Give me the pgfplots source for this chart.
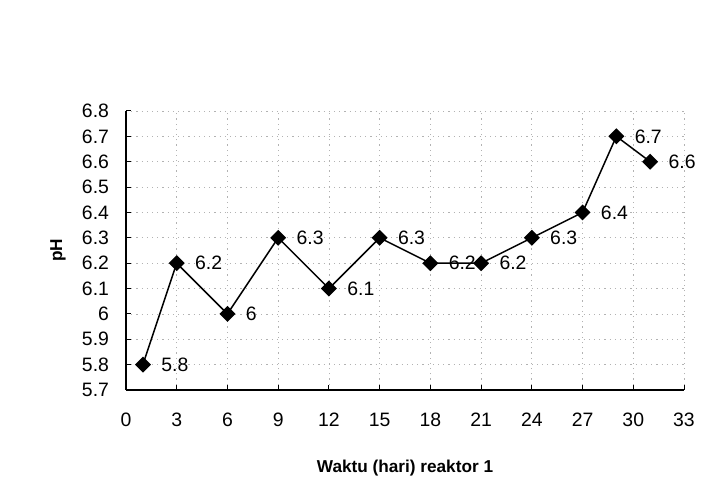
\documentclass[border=0pt]{standalone}
\usepackage{pgfplots}
\pgfplotsset{compat=1.18}
\usepackage{fontspec}
\setmainfont{Liberation Sans}
\begin{document}
\begin{tikzpicture}[x=1pt,y=1pt]
\path[use as bounding box] (0,0) rectangle (353,250.5);
\begin{axis}[
  at={(63pt,55.5pt)}, anchor=south west,
  scale only axis, width=279pt, height=139.5pt,
  xmin=0, xmax=33, ymin=5.7, ymax=6.8,
  xtick={0,3,...,33},
  ytick={5.7,5.8,5.9,6.0,6.1,6.2,6.3,6.4,6.5,6.6,6.7,6.8},
  axis x line*=bottom, axis y line*=left,
  axis line style={black, line width=0.6pt},
  tick style={black, line width=0.5pt},
  major tick length=2.5pt,
  tick align=inside,
  grid=major,
  major grid style={gray!60, line width=0.4pt, dash pattern=on 0.6pt off 2pt},
  /pgf/number format/assume math mode=true,
  /pgf/number format/fixed,
  /pgf/number format/precision=1,
  tick label style={font=\fontsize{9.7}{11}\selectfont},
  xticklabel style={yshift=-7.8pt},
  yticklabel style={xshift=-5pt},
  xlabel={\bfseries Waktu (hari) reaktor 1},
  ylabel={\bfseries pH},
  label style={font=\fontsize{8.6}{10}\selectfont},
  xlabel style={at={(axis description cs:0.5,-0.28)}, anchor=center},
  ylabel style={at={(axis description cs:-0.122,0.5)}, anchor=center, rotate=0},
  clip=false,
]
\addplot[black, line width=0.75pt, mark=square*, mark size=2.45pt,
  mark options={rotate=45, fill=black},
  nodes near coords,
  nodes near coords style={anchor=west, xshift=5.5pt, font=\fontsize{9.7}{11}\selectfont, text=black,
    /pgf/number format/fixed, /pgf/number format/precision=1},
] coordinates {
  (1,5.8) (3,6.2) (6,6.0) (9,6.3) (12,6.1) (15,6.3) (18,6.2) (21,6.2) (24,6.3) (27,6.4) (29,6.7) (31,6.6)
};
\end{axis}
\end{tikzpicture}
\end{document}
